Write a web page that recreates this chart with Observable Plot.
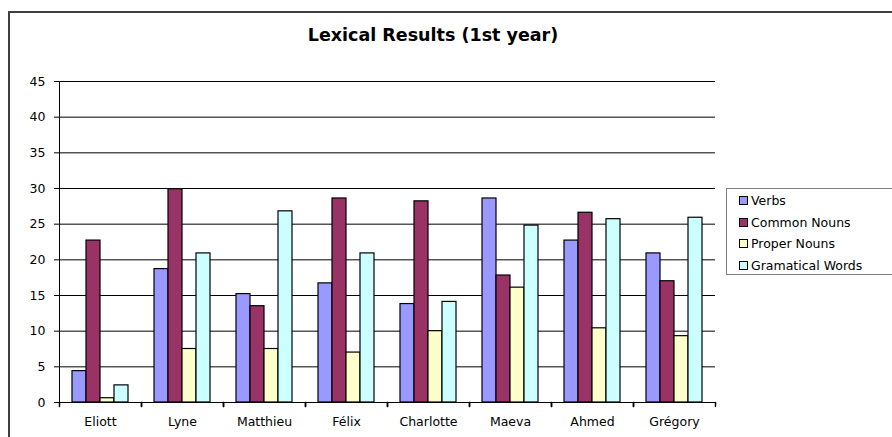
<!DOCTYPE html>
<html>
<head>
<meta charset="utf-8">
<script src="https://cdn.jsdelivr.net/npm/d3@7"></script>
<script src="https://cdn.jsdelivr.net/npm/@observablehq/plot@0.6"></script>
<style>
  html, body { margin: 0; padding: 0; background: #fff; overflow: hidden; }
  #wrap { position: relative; width: 892px; height: 437px; overflow: hidden; font-family: "DejaVu Sans", Verdana, sans-serif; }
  #frame { position: absolute; left: 8px; top: 11px; width: 900px; height: 440px; border-left: 2px solid #404040; border-top: 2px solid #404040; }
  #title { position: absolute; left: 0; width: 866px; top: 25px; text-align: center; font-weight: bold; font-size: 17.5px; line-height: 20px; color: #000; }
  #chart { position: absolute; left: 0; top: 0; }
  #legend { position: absolute; left: 726px; top: 188px; width: 200px; height: 87px; border: 1px solid #808080; box-sizing: border-box; font-size: 12.5px; color: #000; }
  .item { position: absolute; left: 12px; height: 16px; display: flex; align-items: center; }
  .sw { width: 7px; height: 7px; border: 1px solid #000; margin-right: 3px; }
</style>
</head>
<body>
<div id="wrap">
  <div id="frame"></div>
  <div id="chart"></div>
  <div id="title">Lexical Results (1st year)</div>
  <div id="legend"></div>
</div>
<script>
const students = ["Eliott", "Lyne", "Matthieu", "Félix", "Charlotte", "Maeva", "Ahmed", "Grégory"];
const series = ["Verbs", "Common Nouns", "Proper Nouns", "Gramatical Words"];
const colors = ["#9999FF", "#993366", "#FFFFCC", "#CCFFFF"];
const verbs = [4.4, 18.7, 15.2, 16.7, 13.8, 28.6, 22.7, 20.9];
const commonNouns = [22.7, 29.9, 13.5, 28.6, 28.2, 17.8, 26.6, 17.0];
const properNouns = [0.6, 7.5, 7.5, 7.0, 10.0, 16.1, 10.4, 9.3];
const gramaticalWords = [2.4, 20.9, 26.8, 20.9, 14.1, 24.8, 25.7, 25.9];
const yTicks = [0, 5, 10, 15, 20, 25, 30, 35, 40, 45];

const valuesBySeries = [verbs, commonNouns, properNouns, gramaticalWords];
const data = [];
students.forEach((s, i) => series.forEach((k, j) => data.push({student: s, series: k, value: valuesBySeries[j][i]})));

const tickShape = {draw(context, l) { context.moveTo(0, 0); context.lineTo(0, -l); }};

const chart = Plot.plot({
  width: 892,
  height: 437,
  marginLeft: 55,
  marginRight: 174,
  marginTop: 81,
  marginBottom: 35,
  style: {fontFamily: "DejaVu Sans, Verdana, sans-serif", fontSize: "12.5px", color: "#000", background: "transparent"},
  fx: {domain: students, padding: 0, label: null, tickSize: 0, tickPadding: 15},
  x: {domain: series, paddingInner: 0, paddingOuter: 0.75, axis: null},
  y: {domain: [0, 45], ticks: yTicks, label: null, tickSize: 5, tickPadding: 9, line: true},
  color: {domain: series, range: colors},
  marks: [
    Plot.gridY(yTicks, {stroke: "#000", strokeOpacity: 1, strokeWidth: 1}),
    Plot.barY(data, {fx: "student", x: "series", y: "value", fill: "series", stroke: "#000", strokeWidth: 1.2, inset: 0}),
    Plot.ruleY([0], {stroke: "#000"}),
    Plot.vector([0], {frameAnchor: "bottom-left", length: 4, rotate: 180, anchor: "start", shape: tickShape, stroke: "#000"}),
    Plot.vector([0], {frameAnchor: "bottom-right", length: 4, rotate: 180, anchor: "start", shape: tickShape, stroke: "#000"})
  ]
});
document.getElementById("chart").appendChild(chart);

const legend = document.getElementById("legend");
const rowTops = [3, 25, 46, 68];
series.forEach((s, i) => {
  const it = document.createElement("div");
  it.className = "item";
  it.style.top = rowTops[i] + "px";
  it.innerHTML = `<div class="sw" style="background:${colors[i]}"></div><span>${s}</span>`;
  legend.appendChild(it);
});
</script>
</body>
</html>
